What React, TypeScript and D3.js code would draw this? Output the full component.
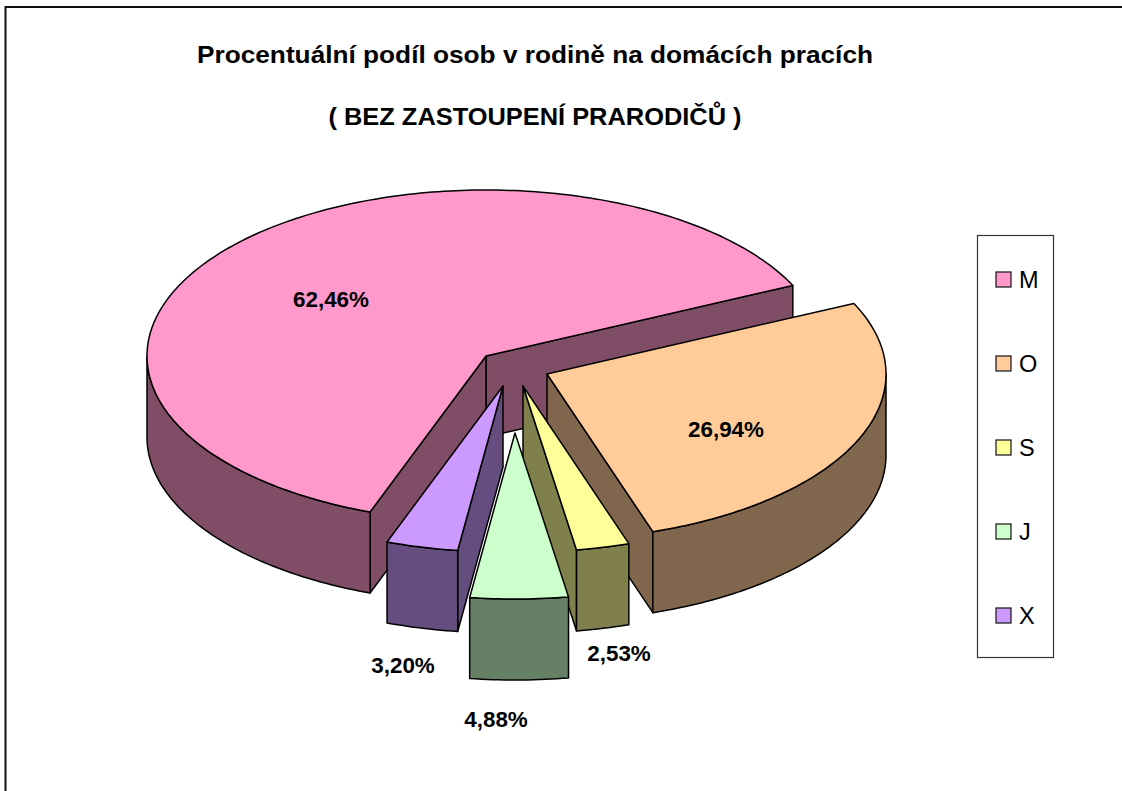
import React from "react";
import * as d3 from "d3";

const titleLines = ["Procentuální podíl osob v rodině na domácích pracích", "( BEZ ZASTOUPENÍ PRARODIČŮ )"];
const categories = ["M", "O", "S", "J", "X"];
const values = [62.46, 26.94, 2.53, 4.88, 3.2];
const valueLabels = ["62,46%", "26,94%", "2,53%", "4,88%", "3,20%"];
const topColors = ["#FF99CC", "#FFCC99", "#FFFF99", "#CCFFCC", "#CC99FF"];
const sideColors = ["#804D66", "#80664D", "#80804D", "#668066", "#664D80"];

// layout
const W = 1122, H = 791;
const cx = 486, cy = 356, rx = 339, ry = 166, depth = 81;
const rotation = 200;
const explode: [number, number][] = [[0, 0], [61, 18], [37, 30], [29, 77], [17, 30]];
const labelPos: [number, number][] = [[331, 307], [726, 437], [619, 661], [496, 727], [403, 673]];
const labelWidths = [76, 76, 63.5, 63.5, 63.5];
const titleWidths = [676, 413];
const paintOrder = [0, 1, 4, 2, 3];
const legendBox = { x: 977, y: 235, w: 76, h: 422 };
const legendY = d3.scalePoint<string>().domain(categories).range([279, 615]);
const font = "'Liberation Sans', Arial, sans-serif";

const rad = (d: number) => (d * Math.PI) / 180;
const TAU = Math.PI * 2;
const arcs = d3
  .pie<number>()
  .sort(null)
  .startAngle(rad(rotation))
  .endAngle(rad(rotation + 360))(values)
  .map((a) => (a.startAngle >= TAU ? { ...a, startAngle: a.startAngle - TAU, endAngle: a.endAngle - TAU } : a));
// the drawn J / X boundary sits slightly before its nominal angle
const jxShift = rad(-0.8);
arcs[3].endAngle += jxShift;
arcs[4].startAngle += jxShift;

const line = d3.line<[number, number]>().x((d) => d[0]).y((d) => d[1]);

function App() {
  const slices = paintOrder.map((i) => {
    const a = arcs[i];
    const [ox, oy] = explode[i];
    const px = cx + ox, py = cy + oy;
    const pt = (t: number, dz = 0): [number, number] => [px + rx * Math.sin(t), py - ry * Math.cos(t) + dz];
    const sweep = (t0: number, t1: number) => {
      const n = Math.max(2, Math.ceil(((t1 - t0) * 180) / Math.PI));
      return d3.range(n + 1).map((k) => t0 + ((t1 - t0) * k) / n);
    };
    const apex: [number, number] = [px, py];
    const apexLow: [number, number] = [px, py + depth];
    const top = [apex, ...sweep(a.startAngle, a.endAngle).map((t) => pt(t))];
    const wall = (t: number) => [apex, pt(t), pt(t, depth), apexLow];
    // a cut face is seen only when its outward normal points towards the viewer
    const walls: [number, number][][] = [];
    if (Math.sin(a.endAngle) > 0) walls.push(wall(a.endAngle));
    if (Math.sin(a.startAngle) < 0) walls.push(wall(a.startAngle));
    // outer rim faces the viewer only on the front half of the ellipse
    const front0 = Math.max(a.startAngle, rad(90));
    const front1 = Math.min(a.endAngle, rad(270));
    let rim: [number, number][] | null = null;
    if (front1 > front0) {
      const ts = sweep(front0, front1);
      rim = [...ts.map((t) => pt(t)), ...ts.slice().reverse().map((t) => pt(t, depth))];
    }
    return { i, top, walls, rim };
  });

  const stroke = { stroke: "#000", strokeWidth: 1.5, strokeLinejoin: "round" as const };

  return (
    <svg width={W} height={H} style={{ position: "absolute", left: 0, top: 0, background: "#fff" }} fontFamily={font}>
      <path d={`M5.5,${H}V7H${W}`} fill="none" stroke="#111" strokeWidth={2} />
      {titleLines.map((t, k) => (
        <text key={t} x={535} y={63 + k * 62} textAnchor="middle" fontWeight="bold" fontSize={24.5} textLength={titleWidths[k]} lengthAdjust="spacingAndGlyphs" fill="#000">
          {t}
        </text>
      ))}
      {slices.map((s) => (
        <g key={categories[s.i]}>
          {s.walls.map((w, k) => (
            <path key={k} d={line(w) + "Z"} fill={sideColors[s.i]} {...stroke} />
          ))}
          {s.rim && <path d={line(s.rim) + "Z"} fill={sideColors[s.i]} {...stroke} />}
          <path d={line(s.top) + "Z"} fill={topColors[s.i]} {...stroke} />
        </g>
      ))}
      {valueLabels.map((t, i) => (
        <text key={t} x={labelPos[i][0]} y={labelPos[i][1]} textAnchor="middle" fontWeight="bold" fontSize={22} textLength={labelWidths[i]} lengthAdjust="spacingAndGlyphs" fill="#000">
          {t}
        </text>
      ))}
      <rect x={legendBox.x + 0.5} y={legendBox.y + 0.5} width={legendBox.w} height={legendBox.h} fill="#fff" stroke="#333" strokeWidth={1.2} />
      {categories.map((c, i) => {
        const y = legendY(c)!;
        return (
          <g key={c}>
            <rect x={996} y={y - 7} width={15} height={15} fill={topColors[i]} stroke="#222" strokeWidth={1.3} />
            <text x={1019} y={y + 9} fontSize={23.5} fill="#000">{c}</text>
          </g>
        );
      })}
    </svg>
  );
}

export default App;
